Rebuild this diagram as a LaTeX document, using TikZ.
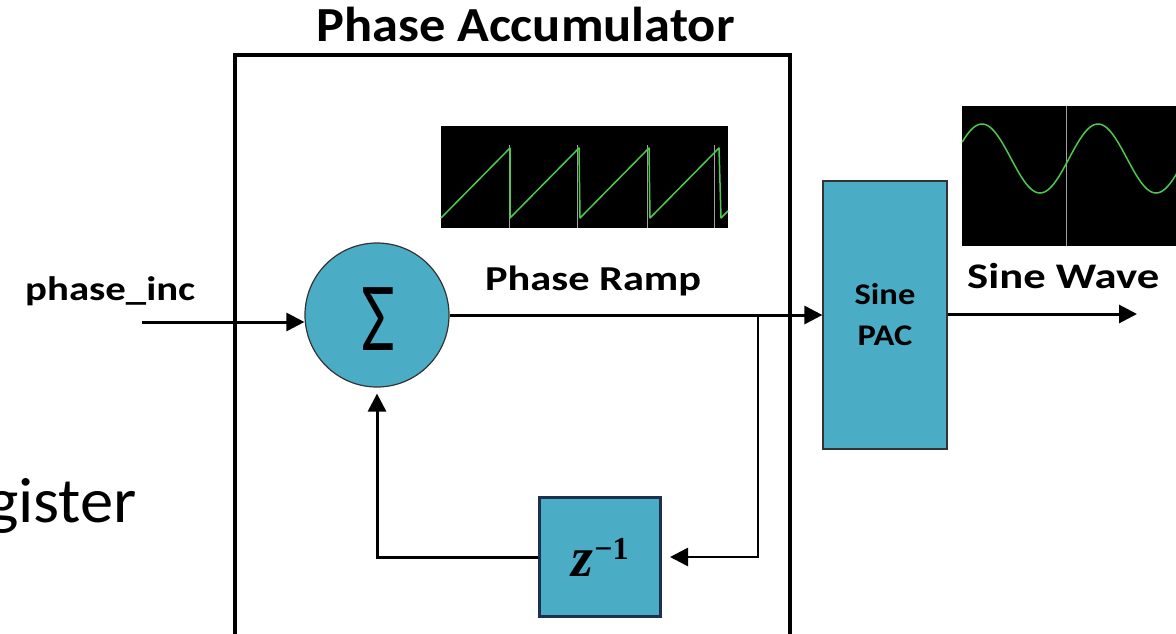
\documentclass[tikz,border=0pt]{standalone}
\usepackage{fontspec}
\setmainfont{Carlito}
\newfontfamily\zfont{Liberation Serif}
\usetikzlibrary{arrows.meta,positioning}
\definecolor{teal5}{HTML}{4BACC6}
\definecolor{navy}{HTML}{1F2F4F}
\definecolor{scopegreen}{HTML}{4CC94C}
\definecolor{scopegray}{HTML}{A0A0A0}
\newcommand{\zinv}{{\zfont\bfseries\itshape\fontsize{56}{56}\selectfont z}\kern1pt\raisebox{17pt}{\zfont\bfseries\fontsize{32}{32}\selectfont −1}}
\newcommand{\wide}[2]{\scalebox{#1}[1]{#2}}
\tikzset{
  lbl/.style={font=\bfseries\fontsize{#1}{#1}\selectfont, inner sep=0pt, anchor=base west},
  conn/.style={line width=3pt, -{Triangle[length=18pt,width=18pt]}},
  block/.style={draw=black!80, line width=1.2pt, fill=teal5},
  zblock/.style={draw=navy, line width=3pt, fill=teal5, minimum width=121pt, minimum height=119pt, inner sep=0pt},
}
\begin{document}
\begin{tikzpicture}[x=1pt,y=-1pt]
\useasboundingbox (0,0) rectangle (1176,633);
\clip (0,0) rectangle (1176,633);
\fill[white] (0,0) rectangle (1176,633);

% title and accumulator box
\node[lbl=49] (title) at (316,41) {\wide{1.07}{Phase Accumulator}};
\draw[line width=4pt] (235,700) -- (235,55) -- (790,55) -- (790,700);

% phase ramp scope
\fill[black] (441,126) rectangle (728,228);
\foreach \gx in {509,577,647,714} \draw[scopegray, line width=1pt] (\gx,145) -- (\gx,228);
\draw[scopegreen, line width=1.5pt, line join=round]
  (441,218) -- (510,148) -- (510,218) -- (579,148) -- (580,218) -- (649,148) -- (650,218)
  -- (719,148) -- (721,218) -- (728,211);

% sine scope
\fill[black] (962,106) rectangle (1180,246);
\draw[scopegray, line width=1pt] (1066,106) -- (1066,246);
\draw[scopegreen, line width=1.5pt] plot[domain=962:1180, samples=120]
  (\x, {158.5-34.5*sin(3.10345*(\x-953))});

% blocks
\node[block, circle, minimum size=144pt, inner sep=0pt] (sum) at (377,315) {};
\node[font=\fontsize{98}{98}\selectfont, inner sep=0pt] (sigma) at (378,319) {\wide{0.75}{Σ}};
\node[zblock] (z) at (600,557) {\zinv};
\node[block, minimum width=124pt, minimum height=268pt, inner sep=0pt, align=center, font=\bfseries\fontsize{30}{41}\selectfont] (pac) at (885,315) {\wide{1.15}{Sine}\\\wide{1.15}{PAC}};

% labels
\node[lbl=34] (inc) at (25,300) {\wide{1.2}{phase\_inc}};
\node[lbl=35] (ramp) at (485,290) {\wide{1.21}{Phase Ramp}};
\node[lbl=36] (wave) at (967,288) {\wide{1.24}{Sine Wave}};
\node[font=\fontsize{64}{64}\selectfont, inner sep=0pt, anchor=base east] (reg) at (137,522) {\wide{1.04}{gister}};

% connectors
\coordinate (in) at (142,322);
\coordinate (tap) at (758,315);
\coordinate (out) at (1137,314);
\draw[conn] (in) -- (in -| sum.west);
\draw[conn] (sum.east) -- (pac.west);
\draw[line width=2.5pt, -{Triangle[length=18pt,width=18pt]}, shorten >=8pt] (tap) |- (z.east);
\draw[conn, shorten >=6pt] (z.west) -| (sum.south);
\draw[conn] (pac.east |- out) -- (out);
\end{tikzpicture}
\end{document}
